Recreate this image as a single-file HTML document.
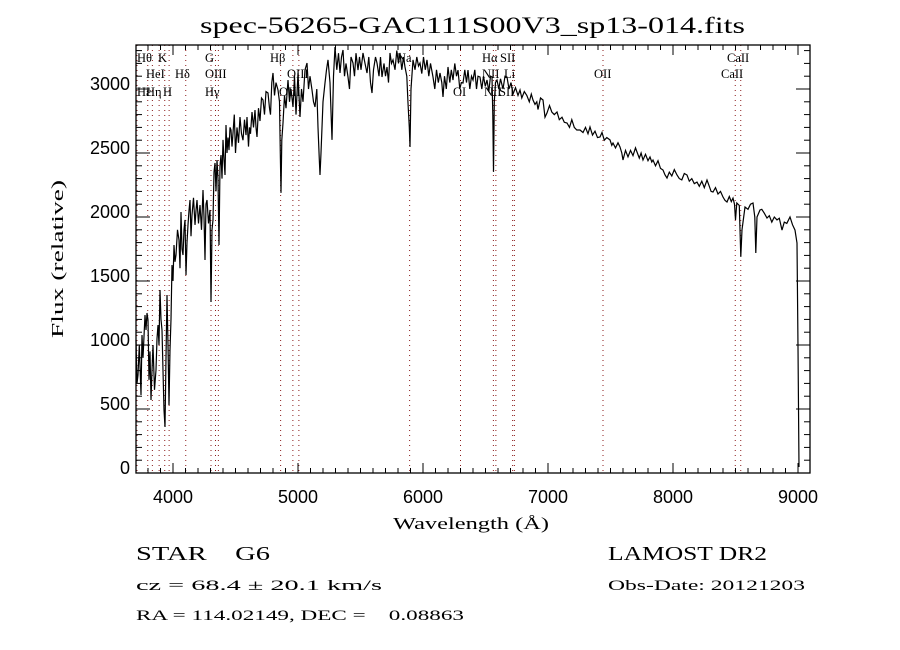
<!DOCTYPE html>
<html><head><meta charset="utf-8"><style>
body{margin:0;background:#fff}
svg{display:block}
.t{font-family:"Liberation Sans",sans-serif;fill:#000}
.s{font-family:"Liberation Serif",serif;fill:#000}
</style></head><body>
<svg id="chart" width="900" height="650" viewBox="0 0 900 650" xmlns="http://www.w3.org/2000/svg">
<rect width="900" height="650" fill="#fff"/>
<text class="s" x="200" y="33" font-size="23" textLength="545" lengthAdjust="spacingAndGlyphs">spec-56265-GAC111S00V3_sp13-014.fits</text>
<g id="lines"></g>
<g id="spec"></g>
<g id="axes"></g>
<text class="s" x="393" y="529" font-size="17" textLength="156" lengthAdjust="spacingAndGlyphs">Wavelength (Å)</text>
<text class="s" x="0" y="0" font-size="17" textLength="158" lengthAdjust="spacingAndGlyphs" transform="translate(63 338) rotate(-90)">Flux (relative)</text>
<text class="s" x="136" y="560" font-size="20" xml:space="preserve" textLength="134" lengthAdjust="spacingAndGlyphs">STAR    G6</text>
<text class="s" x="136" y="590" font-size="15" textLength="246" lengthAdjust="spacingAndGlyphs">cz = 68.4 ± 20.1 km/s</text>
<text class="s" x="136" y="620" font-size="15" xml:space="preserve" textLength="328" lengthAdjust="spacingAndGlyphs">RA = 114.02149, DEC =    0.08863</text>
<text class="s" x="608" y="560" font-size="20" textLength="159" lengthAdjust="spacingAndGlyphs">LAMOST DR2</text>
<text class="s" x="608" y="590" font-size="15" textLength="197" lengthAdjust="spacingAndGlyphs">Obs-Date: 20121203</text>
</svg>
<script>
const wavelengths=[3704,3712,3720,3730,3744,3752,3760,3776,3784,3792,3800,3808,3816,3824,3832,3840,3852,3864,3872,3880,3888,3896,3904,3912,3920,3928,3936,3944,3952,3960,3968,3976,3984,3992,4000,4008,4016,4024,4036,4048,4056,4064,4072,4080,4088,4096,4104,4112,4120,4128,4136,4144,4152,4164,4176,4184,4192,4204,4216,4228,4240,4248,4256,4264,4272,4284,4296,4304,4312,4320,4328,4336,4344,4352,4360,4368,4376,4384,4392,
4400,4408,4416,4424,4432,4440,4448,4456,4464,4472,4480,4490,4500,4512,4524,4536,4548,4560,4572,4584,4592,4604,4612,4620,4632,4644,4656,4664,4672,4684,4696,4708,4720,4732,4744,4760,4772,4780,4790,4800,4812,4824,4840,4852,4858,4864,4870,4880,4892,4904,4920,4932,4944,4960,4972,4984,5000,5008,5016,5028,5040,5056,5072,5084,5096,5112,5124,5136,5150,5160,5170,5176,5184,5200,5216,5228,5240,5256,5272,5284,5296,5310,5324,5336,5348,5360,5372,5384,5400,5412,5424,5440,5452,5464,5480,5492,5504,5520,5536,5552,5566,5580,5592,5604,5620,5632,5648,5660,5672,5688,5700,5712,5724,5736,5748,5760,5776,5790,5804,5816,5830,5844,5856,5870,5880,5890,5896,5904,5920,5936,5950,5964,5976,5990,6004,6018,6032,6046,6060,6080,6094,6108,6122,6136,6150,6160,6172,6186,6200,6214,6226,6240,6254,6268,6280,6294,6306,6320,6334,6348,6360,6374,6388,6400,6414,6428,6440,6456,6470,6484,6498,6512,6526,6540,6552,6558,6564,6570,6580,6592,6606,6620,6640,6656,6672,6688,6704,6720,6740,6760,6776,6790,6810,6830,6850,6866,6880,6896,6910,6920,6940,6960,6976,6992,7012,7030,7050,7072,7090,7112,7130,7152,7172,7190,7210,7230,7256,7280,7300,7320,7336,7356,7376,7396,7416,7432,7450,7470,7496,7510,7520,7540,7560,7576,7590,7600,7620,7640,7660,7680,7700,7712,7730,7745,7760,7780,7800,7816,7830,7840,7860,7880,7900,7920,7936,7952,7970,7990,8010,8032,8050,8070,8090,8112,8130,8150,8170,8192,8210,8230,8250,8272,8290,8305,8320,8340,8360,8380,8400,8416,8432,8450,8466,8480,8492,8500,8510,8530,8542,8552,8576,8600,8620,8640,8654,8662,8672,8696,8710,8730,8752,8770,8790,8810,8832,8850,8872,8890,8910,8936,8956,8976,8992,9000,9008];
const fluxes=[1039,700,766,1000,609,1078,900,1234,1117,1250,1195,727,950,570,800,1000,650,805,1050,1156,1000,1430,1200,1117,800,492,359,900,1391,1000,531,961,1200,1625,1500,1781,1650,1703,1900,1820,1600,2039,1750,1703,1900,1977,1547,1800,1938,2050,2133,1850,2016,2150,1938,2050,2133,1950,2094,1900,2211,2000,1664,2100,2133,1950,2055,1336,1900,1977,2350,2422,2200,2445,2300,1781,2400,2484,2300,
2602,2450,2328,2719,2500,2620,2523,2700,2680,2550,2656,2800,2500,2700,2580,2781,2650,2600,2760,2640,2781,2550,2700,2650,2820,2700,2836,2700,2625,2850,2750,2930,2914,2800,2980,2969,2850,2800,3050,3125,2950,3050,2992,2900,2500,2188,2600,2734,2950,2850,3070,2900,3000,2859,3100,2800,3125,2950,2781,3000,2900,3150,3203,3000,3100,2992,2900,2859,3000,2700,2450,2328,2500,2900,3047,3150,3227,3050,2602,3100,3328,3150,3280,3125,3250,3305,3100,3200,3094,3000,3250,3203,3100,3280,3148,3250,3150,3281,3200,3125,3250,3050,2969,3150,3250,3203,3100,3250,3094,3200,3100,3172,3050,3281,3200,3227,3150,3300,3200,3281,3150,3250,3172,3100,2891,2700,2547,3000,3227,3150,3250,3180,3203,3120,3250,3150,3227,3100,3200,3094,3000,3150,3050,3125,3050,2938,3100,3000,3172,3050,3150,3070,3200,3100,3148,3000,3050,3047,3150,3050,3148,3000,3100,3070,3150,3000,3100,3094,3000,3100,3020,3070,2980,3100,3094,2800,2352,2900,3050,3070,3000,3080,3000,3100,3094,3000,3050,2960,3010,2950,2992,2930,2980,2950,2900,2960,2914,2880,2900,2840,2930,2914,2780,2813,2870,2820,2800,2820,2760,2780,2740,2734,2700,2760,2700,2680,2680,2660,2700,2650,2703,2640,2670,2620,2625,2660,2600,2620,2602,2560,2578,2540,2580,2547,2500,2445,2520,2470,2520,2480,2540,2508,2460,2500,2445,2490,2440,2469,2430,2445,2400,2440,2380,2367,2330,2305,2350,2320,2370,2328,2300,2290,2340,2328,2280,2300,2260,2273,2240,2280,2230,2289,2240,2200,2195,2230,2180,2200,2156,2130,2117,2160,2120,2148,2100,1977,2109,2090,1688,1900,2078,2060,2100,2109,2000,1719,2000,2055,2060,2030,1992,2010,1960,2000,1977,1990,1898,1960,1950,2000,1940,1898,1797,984,47];
const xTicks=[4000,5000,6000,7000,8000,9000];
const yTicks=[0,500,1000,1500,2000,2500,3000];
const lineWaves=[3712,3798,3835,3889,3934,3969,4102,4304,4340,4363,4861,4959,5007,5893,6300,6563,6583,6717,6731,7440,8498,8542];
const NS='http://www.w3.org/2000/svg';
const X0=136,X1=810,Y0=45,Y1=473;
function xs(w){return 173+(w-4000)*0.125;}
function ys(f){return 473-f*0.128;}
function mk(tag,attrs,parent){const e=document.createElementNS(NS,tag);for(const k in attrs)e.setAttribute(k,attrs[k]);parent.appendChild(e);return e;}
const gl=document.getElementById('lines');
lineWaves.forEach(w=>{const l=mk('line',{x1:xs(w),x2:xs(w),y1:Y0,y2:Y1,stroke:'#8b1a1a','stroke-width':1,'stroke-dasharray':'1 4'},gl);

});
const labels=[["Hθ",137,62],["K",158,62],["G",205,62],["Hβ",270,62],["Na",397,62],["Hα",482,62],["SII",500,62],["CaII",727,62],
["HeI",146,78],["Hδ",175,78],["OIII",205,78],["OIII",287,78],["NII",482,78],["Li",504,78],["OII",594,78],["CaII",721,78],
["Hε",137,96],["Hη",146,96],["H",163,96],["Hγ",205,96],["OIII",279,96],["OI",453,96],["NII",484,96],["SII",499,96]];
labels.forEach(a=>{const t=mk('text',{x:a[1],y:a[2],'font-size':12.5,class:'s'},gl);t.textContent=a[0];

});
const gs=document.getElementById('spec');
let d='';wavelengths.forEach((w,i)=>{d+=(i?'L':'M')+xs(w).toFixed(1)+' '+ys(fluxes[i]).toFixed(1);});
const p=mk('path',{d:d,fill:'none',stroke:'#000','stroke-width':1.2,'stroke-linejoin':'miter'},gs);


const ga=document.getElementById('axes');
const fr=mk('rect',{x:X0,y:Y0,width:X1-X0,height:Y1-Y0,fill:'none',stroke:'#000','stroke-width':1.3},ga);


for(let w=3800;w<=9000;w+=100){const x=xs(w);const maj=w%1000===0;const L=maj?10:5;
mk('line',{x1:x,x2:x,y1:Y1,y2:Y1-L,stroke:'#000'},ga);mk('line',{x1:x,x2:x,y1:Y0,y2:Y0+L,stroke:'#000'},ga);}
xTicks.forEach(v=>{const t=mk('text',{x:xs(v),y:503,'font-size':18,'text-anchor':'middle',class:'t'},ga);t.textContent=v;

});
for(let f=0;f<=3300;f+=100){const y=ys(f);const maj=f%500===0;const L=maj?14:6;
mk('line',{x1:X0,x2:X0+L,y1:y,y2:y,stroke:'#000'},ga);mk('line',{x1:X1,x2:X1-L,y1:y,y2:y,stroke:'#000'},ga);}
yTicks.forEach(v=>{const t=mk('text',{x:130,y:ys(v)+1,'font-size':18,'text-anchor':'end',class:'t'},ga);t.textContent=v;

});
</script>
</body></html>
